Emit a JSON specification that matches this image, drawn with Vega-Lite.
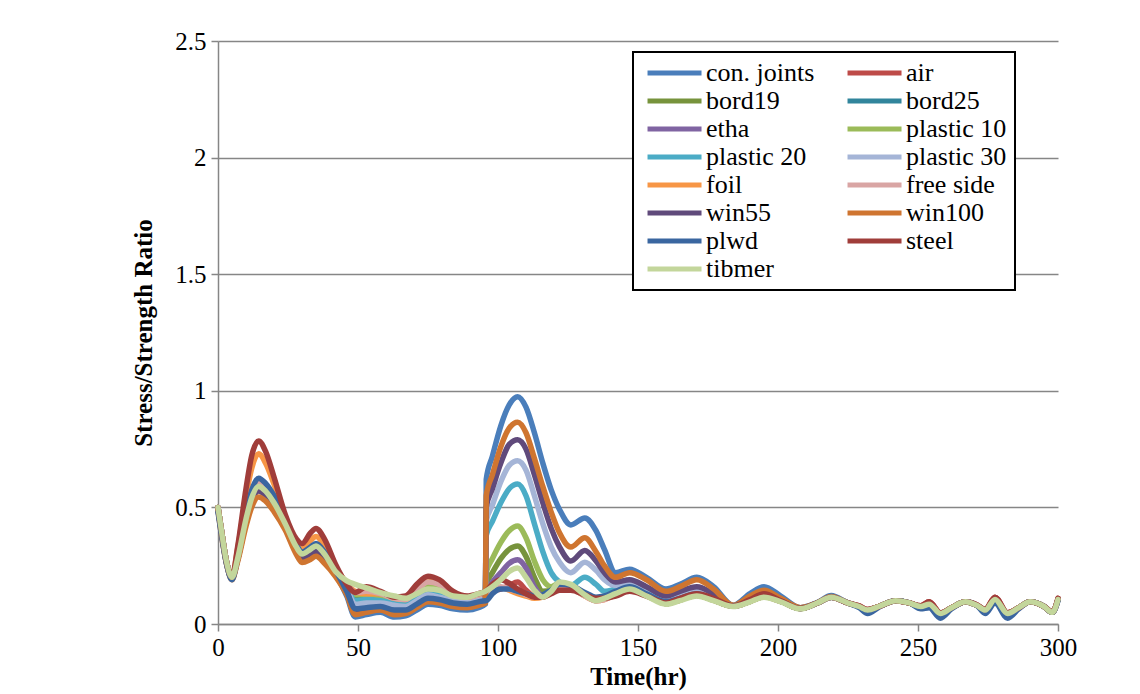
{
"$schema":"https://vega.github.io/schema/vega-lite/v6.json",
"width":840,"height":583,"autosize":"none",
"padding":{"left":218,"top":41,"right":82,"bottom":70},
"background":"white",
"config":{"view":{"stroke":null},"font":"Liberation Serif",
"axis":{"labelFont":"Liberation Serif","titleFont":"Liberation Serif","labelColor":"black","titleColor":"black","domainColor":"#868686","tickColor":"#868686","gridColor":"#868686","domainWidth":1.5,"tickWidth":1.5,"gridWidth":1.5,"labelFontSize":25,"titleFontSize":25,"titleFontWeight":"bold","tickSize":7},
"legend":{"strokeWidth":2}},
"data":{"values":[
{"t":0,"con. joints":0.49,"air":0.5,"bord19":0.5,"bord25":0.5,"etha":0.5,"plastic 10":0.5,"plastic 20":0.5,"plastic 30":0.5,"foil":0.5,"free side":0.5,"win55":0.49,"win100":0.49,"plwd":0.48,"steel":0.5,"tibmer":0.5},
{"t":1,"con. joints":0.41,"air":0.42,"bord19":0.42,"bord25":0.42,"etha":0.42,"plastic 10":0.42,"plastic 20":0.42,"plastic 30":0.42,"foil":0.42,"free side":0.42,"win55":0.41,"win100":0.40,"plwd":0.40,"steel":0.42,"tibmer":0.42},
{"t":3,"con. joints":0.26,"air":0.27,"bord19":0.27,"bord25":0.27,"etha":0.27,"plastic 10":0.27,"plastic 20":0.27,"plastic 30":0.27,"foil":0.27,"free side":0.27,"win55":0.265,"win100":0.26,"plwd":0.26,"steel":0.27,"tibmer":0.27},
{"t":5,"con. joints":0.195,"air":0.2,"bord19":0.2,"bord25":0.2,"etha":0.2,"plastic 10":0.2,"plastic 20":0.2,"plastic 30":0.2,"foil":0.2,"free side":0.2,"win55":0.195,"win100":0.19,"plwd":0.19,"steel":0.2,"tibmer":0.2},
{"t":7,"con. joints":0.277,"air":0.283,"bord19":0.279,"bord25":0.28,"etha":0.285,"plastic 10":0.282,"plastic 20":0.277,"plastic 30":0.276,"foil":0.322,"free side":0.286,"win55":0.274,"win100":0.267,"plwd":0.29,"steel":0.33,"tibmer":0.28},
{"t":10,"con. joints":0.443,"air":0.457,"bord19":0.447,"bord25":0.45,"etha":0.46,"plastic 10":0.454,"plastic 20":0.443,"plastic 30":0.44,"foil":0.548,"free side":0.464,"win55":0.436,"win100":0.419,"plwd":0.475,"steel":0.58,"tibmer":0.45},
{"t":12,"con. joints":0.531,"air":0.549,"bord19":0.536,"bord25":0.54,"etha":0.554,"plastic 10":0.545,"plastic 20":0.531,"plastic 30":0.527,"foil":0.666,"free side":0.558,"win55":0.522,"win100":0.50,"plwd":0.572,"steel":0.72,"tibmer":0.54},
{"t":14.5,"con. joints":0.58,"air":0.60,"bord19":0.585,"bord25":0.59,"etha":0.605,"plastic 10":0.595,"plastic 20":0.58,"plastic 30":0.575,"foil":0.73,"free side":0.61,"win55":0.57,"win100":0.545,"plwd":0.625,"steel":0.785,"tibmer":0.59},
{"t":17,"con. joints":0.56,"air":0.58,"bord19":0.565,"bord25":0.57,"etha":0.584,"plastic 10":0.575,"plastic 20":0.56,"plastic 30":0.556,"foil":0.69,"free side":0.589,"win55":0.551,"win100":0.527,"plwd":0.603,"steel":0.74,"tibmer":0.57},
{"t":20,"con. joints":0.511,"air":0.529,"bord19":0.516,"bord25":0.52,"etha":0.533,"plastic 10":0.524,"plastic 20":0.511,"plastic 30":0.507,"foil":0.60,"free side":0.537,"win55":0.503,"win100":0.482,"plwd":0.55,"steel":0.63,"tibmer":0.52},
{"t":24,"con. joints":0.424,"air":0.436,"bord19":0.427,"bord25":0.43,"etha":0.439,"plastic 10":0.433,"plastic 20":0.424,"plastic 30":0.421,"foil":0.46,"free side":0.442,"win55":0.418,"win100":0.403,"plwd":0.451,"steel":0.47,"tibmer":0.43},
{"t":28,"con. joints":0.314,"air":0.328,"bord19":0.324,"bord25":0.321,"etha":0.329,"plastic 10":0.331,"plastic 20":0.32,"plastic 30":0.317,"foil":0.35,"free side":0.335,"win55":0.313,"win100":0.298,"plwd":0.339,"steel":0.365,"tibmer":0.33},
{"t":30,"con. joints":0.28,"air":0.296,"bord19":0.292,"bord25":0.288,"etha":0.296,"plastic 10":0.30,"plastic 20":0.288,"plastic 30":0.284,"foil":0.325,"free side":0.304,"win55":0.28,"win100":0.264,"plwd":0.308,"steel":0.345,"tibmer":0.30},
{"t":33,"con. joints":0.296,"air":0.315,"bord19":0.31,"bord25":0.306,"etha":0.315,"plastic 10":0.32,"plastic 20":0.306,"plastic 30":0.301,"foil":0.358,"free side":0.325,"win55":0.296,"win100":0.277,"plwd":0.33,"steel":0.39,"tibmer":0.32},
{"t":35,"con. joints":0.31,"air":0.33,"bord19":0.325,"bord25":0.32,"etha":0.33,"plastic 10":0.335,"plastic 20":0.32,"plastic 30":0.315,"foil":0.375,"free side":0.34,"win55":0.31,"win100":0.29,"plwd":0.345,"steel":0.41,"tibmer":0.335},
{"t":38,"con. joints":0.278,"air":0.296,"bord19":0.291,"bord25":0.287,"etha":0.296,"plastic 10":0.30,"plastic 20":0.287,"plastic 30":0.282,"foil":0.336,"free side":0.305,"win55":0.278,"win100":0.26,"plwd":0.309,"steel":0.365,"tibmer":0.30},
{"t":42,"con. joints":0.213,"air":0.223,"bord19":0.22,"bord25":0.218,"etha":0.223,"plastic 10":0.225,"plastic 20":0.218,"plastic 30":0.215,"foil":0.245,"free side":0.228,"win55":0.213,"win100":0.203,"plwd":0.23,"steel":0.255,"tibmer":0.225},
{"t":46,"con. joints":0.12,"air":0.17,"bord19":0.165,"bord25":0.16,"etha":0.145,"plastic 10":0.17,"plastic 20":0.155,"plastic 30":0.15,"foil":0.175,"free side":0.175,"win55":0.135,"win100":0.125,"plwd":0.14,"steel":0.17,"tibmer":0.185},
{"t":49,"con. joints":0.03,"air":0.13,"bord19":0.115,"bord25":0.11,"etha":0.075,"plastic 10":0.125,"plastic 20":0.10,"plastic 30":0.085,"foil":0.14,"free side":0.135,"win55":0.06,"win100":0.04,"plwd":0.065,"steel":0.135,"tibmer":0.17},
{"t":53,"con. joints":0.04,"air":0.135,"bord19":0.12,"bord25":0.11,"etha":0.08,"plastic 10":0.125,"plastic 20":0.105,"plastic 30":0.09,"foil":0.13,"free side":0.14,"win55":0.065,"win100":0.05,"plwd":0.07,"steel":0.16,"tibmer":0.155},
{"t":58,"con. joints":0.05,"air":0.125,"bord19":0.115,"bord25":0.105,"etha":0.085,"plastic 10":0.12,"plastic 20":0.10,"plastic 30":0.09,"foil":0.13,"free side":0.13,"win55":0.07,"win100":0.06,"plwd":0.075,"steel":0.14,"tibmer":0.135},
{"t":63,"con. joints":0.03,"air":0.11,"bord19":0.10,"bord25":0.095,"etha":0.07,"plastic 10":0.105,"plastic 20":0.09,"plastic 30":0.08,"foil":0.11,"free side":0.11,"win55":0.055,"win100":0.04,"plwd":0.06,"steel":0.115,"tibmer":0.12},
{"t":67,"con. joints":0.035,"air":0.105,"bord19":0.095,"bord25":0.09,"etha":0.07,"plastic 10":0.10,"plastic 20":0.085,"plastic 30":0.075,"foil":0.105,"free side":0.105,"win55":0.055,"win100":0.045,"plwd":0.06,"steel":0.12,"tibmer":0.11},
{"t":71,"con. joints":0.06,"air":0.14,"bord19":0.12,"bord25":0.115,"etha":0.095,"plastic 10":0.13,"plastic 20":0.11,"plastic 30":0.10,"foil":0.15,"free side":0.145,"win55":0.08,"win100":0.07,"plwd":0.085,"steel":0.17,"tibmer":0.13},
{"t":75,"con. joints":0.085,"air":0.175,"bord19":0.145,"bord25":0.14,"etha":0.12,"plastic 10":0.16,"plastic 20":0.135,"plastic 30":0.125,"foil":0.185,"free side":0.18,"win55":0.105,"win100":0.095,"plwd":0.11,"steel":0.205,"tibmer":0.15},
{"t":79,"con. joints":0.08,"air":0.165,"bord19":0.135,"bord25":0.13,"etha":0.11,"plastic 10":0.15,"plastic 20":0.125,"plastic 30":0.115,"foil":0.175,"free side":0.17,"win55":0.10,"win100":0.09,"plwd":0.105,"steel":0.19,"tibmer":0.145},
{"t":84,"con. joints":0.065,"air":0.13,"bord19":0.115,"bord25":0.11,"etha":0.095,"plastic 10":0.12,"plastic 20":0.105,"plastic 30":0.10,"foil":0.135,"free side":0.13,"win55":0.085,"win100":0.075,"plwd":0.09,"steel":0.14,"tibmer":0.12},
{"t":89,"con. joints":0.06,"air":0.115,"bord19":0.11,"bord25":0.105,"etha":0.09,"plastic 10":0.11,"plastic 20":0.10,"plastic 30":0.095,"foil":0.115,"free side":0.115,"win55":0.08,"win100":0.07,"plwd":0.085,"steel":0.12,"tibmer":0.115},
{"t":93,"con. joints":0.07,"air":0.125,"bord19":0.12,"bord25":0.115,"etha":0.10,"plastic 10":0.125,"plastic 20":0.11,"plastic 30":0.105,"foil":0.125,"free side":0.125,"win55":0.09,"win100":0.08,"plwd":0.095,"steel":0.13,"tibmer":0.13},
{"t":95.5,"con. joints":0.085,"air":0.135,"bord19":0.125,"bord25":0.12,"etha":0.11,"plastic 10":0.13,"plastic 20":0.12,"plastic 30":0.115,"foil":0.13,"free side":0.135,"win55":0.10,"win100":0.09,"plwd":0.10,"steel":0.14,"tibmer":0.14},
{"t":95.8,"con. joints":0.62,"air":0.135,"bord19":0.17,"bord25":0.12,"etha":0.14,"plastic 10":0.22,"plastic 20":0.38,"plastic 30":0.44,"foil":0.13,"free side":0.135,"win55":0.50,"win100":0.55,"plwd":0.10,"steel":0.142,"tibmer":0.142},
{"t":98,"con. joints":0.72,"air":0.145,"bord19":0.22,"bord25":0.14,"etha":0.18,"plastic 10":0.28,"plastic 20":0.44,"plastic 30":0.51,"foil":0.145,"free side":0.15,"win55":0.58,"win100":0.64,"plwd":0.13,"steel":0.17,"tibmer":0.16},
{"t":101,"con. joints":0.85,"air":0.15,"bord19":0.28,"bord25":0.155,"etha":0.22,"plastic 10":0.35,"plastic 20":0.52,"plastic 30":0.61,"foil":0.155,"free side":0.16,"win55":0.69,"win100":0.76,"plwd":0.15,"steel":0.19,"tibmer":0.19},
{"t":104,"con. joints":0.94,"air":0.165,"bord19":0.32,"bord25":0.15,"etha":0.26,"plastic 10":0.40,"plastic 20":0.58,"plastic 30":0.68,"foil":0.145,"free side":0.15,"win55":0.77,"win100":0.84,"plwd":0.15,"steel":0.175,"tibmer":0.225},
{"t":107,"con. joints":0.975,"air":0.18,"bord19":0.335,"bord25":0.14,"etha":0.275,"plastic 10":0.42,"plastic 20":0.60,"plastic 30":0.70,"foil":0.13,"free side":0.14,"win55":0.79,"win100":0.865,"plwd":0.14,"steel":0.15,"tibmer":0.24},
{"t":110,"con. joints":0.93,"air":0.145,"bord19":0.29,"bord25":0.13,"etha":0.24,"plastic 10":0.37,"plastic 20":0.55,"plastic 30":0.66,"foil":0.12,"free side":0.125,"win55":0.75,"win100":0.82,"plwd":0.13,"steel":0.13,"tibmer":0.20},
{"t":113,"con. joints":0.82,"air":0.12,"bord19":0.20,"bord25":0.12,"etha":0.16,"plastic 10":0.27,"plastic 20":0.43,"plastic 30":0.55,"foil":0.11,"free side":0.115,"win55":0.64,"win100":0.71,"plwd":0.12,"steel":0.115,"tibmer":0.145},
{"t":116,"con. joints":0.69,"air":0.125,"bord19":0.14,"bord25":0.125,"etha":0.12,"plastic 10":0.19,"plastic 20":0.31,"plastic 30":0.43,"foil":0.115,"free side":0.12,"win55":0.52,"win100":0.59,"plwd":0.125,"steel":0.115,"tibmer":0.115},
{"t":119,"con. joints":0.575,"air":0.145,"bord19":0.145,"bord25":0.145,"etha":0.145,"plastic 10":0.16,"plastic 20":0.22,"plastic 30":0.33,"foil":0.14,"free side":0.14,"win55":0.41,"win100":0.48,"plwd":0.145,"steel":0.13,"tibmer":0.14},
{"t":122,"con. joints":0.49,"air":0.165,"bord19":0.175,"bord25":0.165,"etha":0.175,"plastic 10":0.175,"plastic 20":0.18,"plastic 30":0.265,"foil":0.16,"free side":0.16,"win55":0.33,"win100":0.39,"plwd":0.17,"steel":0.145,"tibmer":0.18},
{"t":126,"con. joints":0.425,"air":0.16,"bord19":0.165,"bord25":0.16,"etha":0.165,"plastic 10":0.165,"plastic 20":0.165,"plastic 30":0.22,"foil":0.155,"free side":0.155,"win55":0.27,"win100":0.33,"plwd":0.165,"steel":0.145,"tibmer":0.17},
{"t":131,"con. joints":0.455,"air":0.125,"bord19":0.13,"bord25":0.13,"etha":0.125,"plastic 10":0.13,"plastic 20":0.20,"plastic 30":0.265,"foil":0.12,"free side":0.12,"win55":0.315,"win100":0.37,"plwd":0.135,"steel":0.125,"tibmer":0.125},
{"t":135,"con. joints":0.40,"air":0.105,"bord19":0.105,"bord25":0.11,"etha":0.10,"plastic 10":0.105,"plastic 20":0.17,"plastic 30":0.23,"foil":0.10,"free side":0.10,"win55":0.27,"win100":0.31,"plwd":0.115,"steel":0.11,"tibmer":0.10},
{"t":138,"con. joints":0.32,"air":0.11,"bord19":0.11,"bord25":0.115,"etha":0.11,"plastic 10":0.11,"plastic 20":0.14,"plastic 30":0.19,"foil":0.105,"free side":0.105,"win55":0.22,"win100":0.25,"plwd":0.12,"steel":0.11,"tibmer":0.11},
{"t":142,"con. joints":0.22,"air":0.13,"bord19":0.13,"bord25":0.135,"etha":0.13,"plastic 10":0.13,"plastic 20":0.15,"plastic 30":0.165,"foil":0.125,"free side":0.125,"win55":0.18,"win100":0.20,"plwd":0.14,"steel":0.12,"tibmer":0.13},
{"t":147,"con. joints":0.235,"air":0.15,"bord19":0.15,"bord25":0.155,"etha":0.15,"plastic 10":0.15,"plastic 20":0.17,"plastic 30":0.18,"foil":0.145,"free side":0.145,"win55":0.19,"win100":0.22,"plwd":0.16,"steel":0.14,"tibmer":0.15},
{"t":153,"con. joints":0.20,"air":0.125,"bord19":0.125,"bord25":0.125,"etha":0.125,"plastic 10":0.125,"plastic 20":0.14,"plastic 30":0.15,"foil":0.125,"free side":0.125,"win55":0.16,"win100":0.19,"plwd":0.13,"steel":0.12,"tibmer":0.12},
{"t":160,"con. joints":0.15,"air":0.088,"bord19":0.088,"bord25":0.088,"etha":0.088,"plastic 10":0.088,"plastic 20":0.10,"plastic 30":0.11,"foil":0.088,"free side":0.088,"win55":0.12,"win100":0.14,"plwd":0.095,"steel":0.09,"tibmer":0.085},
{"t":165,"con. joints":0.17,"air":0.103,"bord19":0.103,"bord25":0.103,"etha":0.103,"plastic 10":0.103,"plastic 20":0.12,"plastic 30":0.13,"foil":0.103,"free side":0.103,"win55":0.14,"win100":0.16,"plwd":0.11,"steel":0.11,"tibmer":0.10},
{"t":171,"con. joints":0.20,"air":0.123,"bord19":0.123,"bord25":0.123,"etha":0.123,"plastic 10":0.123,"plastic 20":0.14,"plastic 30":0.15,"foil":0.123,"free side":0.123,"win55":0.16,"win100":0.19,"plwd":0.13,"steel":0.13,"tibmer":0.12},
{"t":177,"con. joints":0.16,"air":0.102,"bord19":0.102,"bord25":0.102,"etha":0.102,"plastic 10":0.102,"plastic 20":0.115,"plastic 30":0.125,"foil":0.102,"free side":0.102,"win55":0.13,"win100":0.15,"plwd":0.105,"steel":0.11,"tibmer":0.10},
{"t":184,"con. joints":0.08,"air":0.076,"bord19":0.076,"bord25":0.076,"etha":0.076,"plastic 10":0.076,"plastic 20":0.076,"plastic 30":0.077,"foil":0.076,"free side":0.076,"win55":0.078,"win100":0.08,"plwd":0.077,"steel":0.077,"tibmer":0.075},
{"t":190,"con. joints":0.13,"air":0.097,"bord19":0.097,"bord25":0.097,"etha":0.097,"plastic 10":0.097,"plastic 20":0.10,"plastic 30":0.105,"foil":0.097,"free side":0.097,"win55":0.11,"win100":0.12,"plwd":0.10,"steel":0.105,"tibmer":0.095},
{"t":195,"con. joints":0.16,"air":0.118,"bord19":0.118,"bord25":0.118,"etha":0.118,"plastic 10":0.118,"plastic 20":0.125,"plastic 30":0.13,"foil":0.118,"free side":0.118,"win55":0.135,"win100":0.145,"plwd":0.12,"steel":0.13,"tibmer":0.115},
{"t":201,"con. joints":0.12,"air":0.097,"bord19":0.097,"bord25":0.097,"etha":0.097,"plastic 10":0.097,"plastic 20":0.10,"plastic 30":0.10,"foil":0.097,"free side":0.097,"win55":0.105,"win100":0.11,"plwd":0.098,"steel":0.10,"tibmer":0.095},
{"t":208,"con. joints":0.07,"air":0.066,"bord19":0.066,"bord25":0.066,"etha":0.066,"plastic 10":0.066,"plastic 20":0.066,"plastic 30":0.067,"foil":0.066,"free side":0.066,"win55":0.068,"win100":0.07,"plwd":0.066,"steel":0.066,"tibmer":0.065},
{"t":214,"con. joints":0.092,"air":0.09,"bord19":0.09,"bord25":0.09,"etha":0.09,"plastic 10":0.09,"plastic 20":0.09,"plastic 30":0.09,"foil":0.09,"free side":0.09,"win55":0.09,"win100":0.09,"plwd":0.09,"steel":0.09,"tibmer":0.09},
{"t":219,"con. joints":0.122,"air":0.115,"bord19":0.115,"bord25":0.115,"etha":0.115,"plastic 10":0.115,"plastic 20":0.115,"plastic 30":0.115,"foil":0.115,"free side":0.115,"win55":0.117,"win100":0.118,"plwd":0.115,"steel":0.115,"tibmer":0.115},
{"t":225,"con. joints":0.09,"air":0.09,"bord19":0.09,"bord25":0.09,"etha":0.09,"plastic 10":0.09,"plastic 20":0.09,"plastic 30":0.09,"foil":0.09,"free side":0.09,"win55":0.09,"win100":0.09,"plwd":0.09,"steel":0.09,"tibmer":0.09},
{"t":229,"con. joints":0.075,"air":0.078,"bord19":0.075,"bord25":0.075,"etha":0.075,"plastic 10":0.075,"plastic 20":0.075,"plastic 30":0.075,"foil":0.075,"free side":0.075,"win55":0.075,"win100":0.075,"plwd":0.07,"steel":0.078,"tibmer":0.075},
{"t":232,"con. joints":0.06,"air":0.062,"bord19":0.06,"bord25":0.06,"etha":0.06,"plastic 10":0.06,"plastic 20":0.06,"plastic 30":0.06,"foil":0.06,"free side":0.06,"win55":0.06,"win100":0.06,"plwd":0.045,"steel":0.062,"tibmer":0.06},
{"t":236,"con. joints":0.075,"air":0.075,"bord19":0.075,"bord25":0.075,"etha":0.075,"plastic 10":0.075,"plastic 20":0.075,"plastic 30":0.075,"foil":0.075,"free side":0.075,"win55":0.075,"win100":0.075,"plwd":0.072,"steel":0.075,"tibmer":0.075},
{"t":242,"con. joints":0.10,"air":0.10,"bord19":0.10,"bord25":0.10,"etha":0.10,"plastic 10":0.10,"plastic 20":0.10,"plastic 30":0.10,"foil":0.10,"free side":0.10,"win55":0.10,"win100":0.10,"plwd":0.10,"steel":0.10,"tibmer":0.10},
{"t":247,"con. joints":0.09,"air":0.09,"bord19":0.09,"bord25":0.09,"etha":0.09,"plastic 10":0.09,"plastic 20":0.09,"plastic 30":0.09,"foil":0.09,"free side":0.09,"win55":0.09,"win100":0.09,"plwd":0.09,"steel":0.09,"tibmer":0.09},
{"t":251,"con. joints":0.075,"air":0.078,"bord19":0.075,"bord25":0.075,"etha":0.075,"plastic 10":0.075,"plastic 20":0.075,"plastic 30":0.075,"foil":0.075,"free side":0.075,"win55":0.075,"win100":0.075,"plwd":0.065,"steel":0.078,"tibmer":0.075},
{"t":254,"con. joints":0.085,"air":0.095,"bord19":0.085,"bord25":0.085,"etha":0.085,"plastic 10":0.085,"plastic 20":0.085,"plastic 30":0.085,"foil":0.087,"free side":0.085,"win55":0.085,"win100":0.085,"plwd":0.07,"steel":0.095,"tibmer":0.085},
{"t":258,"con. joints":0.045,"air":0.048,"bord19":0.045,"bord25":0.045,"etha":0.045,"plastic 10":0.045,"plastic 20":0.045,"plastic 30":0.045,"foil":0.045,"free side":0.045,"win55":0.045,"win100":0.045,"plwd":0.025,"steel":0.048,"tibmer":0.045},
{"t":262,"con. joints":0.07,"air":0.07,"bord19":0.07,"bord25":0.07,"etha":0.07,"plastic 10":0.07,"plastic 20":0.07,"plastic 30":0.07,"foil":0.07,"free side":0.07,"win55":0.07,"win100":0.07,"plwd":0.065,"steel":0.07,"tibmer":0.07},
{"t":267,"con. joints":0.095,"air":0.095,"bord19":0.095,"bord25":0.095,"etha":0.095,"plastic 10":0.095,"plastic 20":0.095,"plastic 30":0.095,"foil":0.095,"free side":0.095,"win55":0.095,"win100":0.095,"plwd":0.095,"steel":0.095,"tibmer":0.095},
{"t":271,"con. joints":0.08,"air":0.082,"bord19":0.08,"bord25":0.08,"etha":0.08,"plastic 10":0.08,"plastic 20":0.08,"plastic 30":0.08,"foil":0.08,"free side":0.08,"win55":0.08,"win100":0.08,"plwd":0.08,"steel":0.082,"tibmer":0.08},
{"t":274,"con. joints":0.06,"air":0.062,"bord19":0.06,"bord25":0.06,"etha":0.06,"plastic 10":0.06,"plastic 20":0.06,"plastic 30":0.06,"foil":0.06,"free side":0.06,"win55":0.06,"win100":0.06,"plwd":0.045,"steel":0.062,"tibmer":0.06},
{"t":277.5,"con. joints":0.105,"air":0.115,"bord19":0.105,"bord25":0.105,"etha":0.105,"plastic 10":0.105,"plastic 20":0.105,"plastic 30":0.105,"foil":0.107,"free side":0.105,"win55":0.105,"win100":0.105,"plwd":0.09,"steel":0.115,"tibmer":0.105},
{"t":282,"con. joints":0.045,"air":0.048,"bord19":0.045,"bord25":0.045,"etha":0.045,"plastic 10":0.045,"plastic 20":0.045,"plastic 30":0.045,"foil":0.045,"free side":0.045,"win55":0.045,"win100":0.045,"plwd":0.025,"steel":0.048,"tibmer":0.045},
{"t":286,"con. joints":0.07,"air":0.07,"bord19":0.07,"bord25":0.07,"etha":0.07,"plastic 10":0.07,"plastic 20":0.07,"plastic 30":0.07,"foil":0.07,"free side":0.07,"win55":0.07,"win100":0.07,"plwd":0.065,"steel":0.07,"tibmer":0.07},
{"t":290,"con. joints":0.095,"air":0.095,"bord19":0.095,"bord25":0.095,"etha":0.095,"plastic 10":0.095,"plastic 20":0.095,"plastic 30":0.095,"foil":0.095,"free side":0.095,"win55":0.095,"win100":0.095,"plwd":0.095,"steel":0.095,"tibmer":0.095},
{"t":295,"con. joints":0.075,"air":0.075,"bord19":0.075,"bord25":0.075,"etha":0.075,"plastic 10":0.075,"plastic 20":0.075,"plastic 30":0.075,"foil":0.075,"free side":0.075,"win55":0.075,"win100":0.075,"plwd":0.075,"steel":0.075,"tibmer":0.075},
{"t":298,"con. joints":0.05,"air":0.052,"bord19":0.05,"bord25":0.05,"etha":0.05,"plastic 10":0.05,"plastic 20":0.05,"plastic 30":0.05,"foil":0.05,"free side":0.05,"win55":0.05,"win100":0.05,"plwd":0.05,"steel":0.052,"tibmer":0.05},
{"t":300,"con. joints":0.105,"air":0.11,"bord19":0.105,"bord25":0.105,"etha":0.105,"plastic 10":0.105,"plastic 20":0.105,"plastic 30":0.105,"foil":0.105,"free side":0.105,"win55":0.105,"win100":0.105,"plwd":0.10,"steel":0.11,"tibmer":0.105}
]},
"transform":[{"fold":["con\\. joints","air","bord19","bord25","etha","plastic 10","plastic 20","plastic 30","foil","free side","win55","win100","plwd","steel","tibmer"],"as":["series","value"]}],
"mark":{"type":"line","interpolate":"monotone","strokeWidth":5.5,"strokeJoin":"round","strokeCap":"round"},
"encoding":{
"x":{"field":"t","type":"quantitative","scale":{"domain":[0,300],"nice":false},"axis":{"values":[0,50,100,150,200,250,300],"grid":false,"title":"Time(hr)","labelPadding":4,"titlePadding":4,"labelFlush":false}},
"y":{"field":"value","type":"quantitative","scale":{"domain":[0,2.5],"nice":false},"axis":{"values":[0,0.5,1,1.5,2,2.5],"format":"~g","grid":true,"title":"Stress/Strength Ratio","labelPadding":5,"titlePadding":18}},
"color":{"field":"series","type":"nominal",
"scale":{"domain":["con. joints","air","bord19","bord25","etha","plastic 10","plastic 20","plastic 30","foil","free side","win55","win100","plwd","steel","tibmer"],
"range":["#4A7EBB","#BE4B48","#77933C","#31859C","#8064A2","#9BBB59","#4BACC6","#A5B5D7","#F79646","#D9A5A4","#604A7B","#CF7530","#3A66A0","#A03D3A","#C3D69B"]},
"legend":{"title":null,"orient":"none","legendX":415,"legendY":11,"columns":2,"direction":"horizontal","symbolType":"M-1.08,0H7.92","symbolSize":144,"symbolStrokeWidth":5,"labelOffset":39,"columnPadding":22,"rowPadding":2,"padding":8,"strokeColor":"black","fillColor":"white","labelFont":"Liberation Serif, serif","labelFontSize":26,"labelColor":"black"}}
}
}
